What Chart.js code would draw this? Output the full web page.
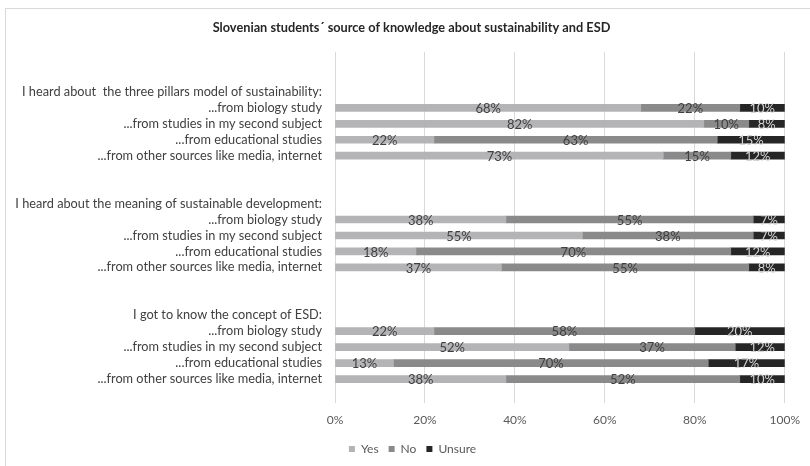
<!DOCTYPE html>
<html>
<head>
<meta charset="utf-8">
<script src="https://cdn.jsdelivr.net/npm/chart.js@4/dist/chart.umd.min.js"></script>
<style>
  html, body { margin: 0; padding: 0; background: #ffffff; overflow: hidden; }
  #frame { position: absolute; left: 5px; top: 8px; width: 900px; height: 600px;
           border: 1px solid #d9d9d9; box-sizing: border-box; }
  #chart { position: absolute; left: 0; top: 0; }
</style>
</head>
<body>
<div id="frame"></div>
<canvas id="chart" width="810" height="466"></canvas>
<script>
// Rows of the chart, top to bottom (empty strings are spacer rows)
const categories = [
  '', '',
  'I heard about  the three pillars model of sustainability:',
  '...from biology study',
  '...from studies in my second subject',
  '...from educational studies',
  '...from other sources like media, internet',
  '', '',
  'I heard about the meaning of sustainable development:',
  '...from biology study',
  '...from studies in my second subject',
  '...from educational studies',
  '...from other sources like media, internet',
  '', '',
  'I got to know the concept of ESD:',
  '...from biology study',
  '...from studies in my second subject',
  '...from educational studies',
  '...from other sources like media, internet',
  ''
];

// Percent answers per row (null = no bar on that row)
const yesValues = [null, null, null, 68, 82, 22, 73, null, null, null, 38, 55, 18, 37, null, null, null, 22, 52, 13, 38, null];
const noValues = [null, null, null, 22, 10, 63, 15, null, null, null, 55, 38, 70, 55, null, null, null, 58, 37, 70, 52, null];
const unsureValues = [null, null, null, 10, 8, 15, 12, null, null, null, 7, 7, 12, 8, null, null, null, 20, 12, 17, 10, null];

const seriesNames = ['Yes', 'No', 'Unsure'];
const xTicks = [0, 20, 40, 60, 80, 100];
const chartTitle = 'Slovenian students\u00b4 source of knowledge about sustainability and ESD';

const FONT = 'Lato, "Open Sans", sans-serif';
Chart.defaults.font.family = FONT;
Chart.defaults.font.size = 12;
Chart.defaults.color = '#595959';

// Writes each segment's percentage in the middle of the segment
const segmentLabels = {
  id: 'segmentLabels',
  afterDatasetsDraw(chart) {
    const ctx = chart.ctx;
    ctx.save();
    ctx.font = '13px ' + FONT;
    ctx.textAlign = 'center';
    ctx.textBaseline = 'middle';
    chart.data.datasets.forEach((ds, di) => {
      const meta = chart.getDatasetMeta(di);
      meta.data.forEach((el, i) => {
        const v = ds.data[i];
        if (v === null || v === undefined) return;
        const p = el.getProps(['x', 'y', 'base'], true);
        ctx.fillStyle = ds.labelColor;
        ctx.fillText(v + '%', (p.x + p.base) / 2, p.y + 1);
      });
    });
    ctx.restore();
  }
};

// Nudges the title and legend blocks to the right
const blockShift = {
  id: 'blockShift',
  afterLayout(chart) {
    const lg = chart.legend;
    if (lg) { lg.left += 18; lg.right += 18; }
    const tb = chart.titleBlock;
    if (tb) { tb.left += 17; tb.right += 17; }
  }
};

const colors = ['#b4b4b6', '#8a8a8a', '#262626'];
const labelColors = ['#404040', '#404040', '#d4d4d4'];
const values = [yesValues, noValues, unsureValues];

new Chart(document.getElementById('chart'), {
  type: 'bar',
  data: {
    labels: categories,
    datasets: seriesNames.map((name, k) => ({
      label: name,
      data: values[k],
      backgroundColor: colors[k],
      borderWidth: 0,
      barThickness: 7,
      labelColor: labelColors[k]
    }))
  },
  options: {
    indexAxis: 'y',
    responsive: false,
    animation: false,
    layout: { padding: { left: 0, right: 21, top: 0, bottom: 1 } },
    scales: {
      x: {
        stacked: true,
        min: 0,
        max: 100,
        afterBuildTicks: s => { s.ticks = xTicks.map(v => ({ value: v })); },
        afterFit: s => { s.height = 30; },
        grid: { color: '#d9d9d9', lineWidth: 1, drawTicks: false },
        border: { display: false },
        ticks: { padding: 10, color: '#595959', callback: v => v + '%' }
      },
      y: {
        stacked: true,
        afterFit: s => { s.width = 335; },
        grid: { display: false, drawTicks: false },
        border: { display: false },
        ticks: { padding: 13, autoSkip: false, color: '#404040', font: { size: 12.75 } }
      }
    },
    plugins: {
      title: {
        display: true,
        text: chartTitle,
        color: '#262626',
        font: { size: 12.75, weight: 'bold', lineHeight: 1.2 },
        padding: { top: 20, bottom: 16.7 }
      },
      legend: {
        position: 'bottom',
        labels: { boxWidth: 6, boxHeight: 6, padding: 10, color: '#595959', font: { size: 12 } }
      },
      tooltip: { enabled: false }
    }
  },
  plugins: [segmentLabels, blockShift]
});
</script>
</body>
</html>
